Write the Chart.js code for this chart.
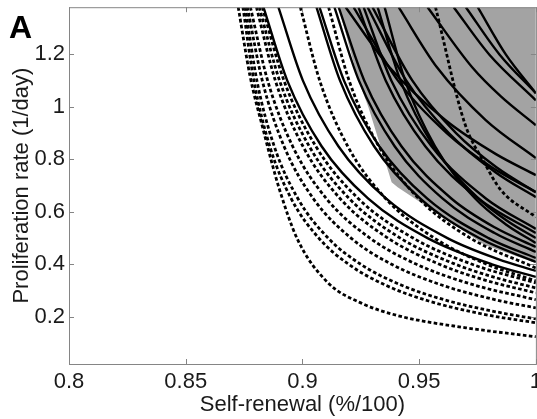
<!DOCTYPE html>
<html>
<head>
<meta charset="utf-8">
<script src="https://cdn.jsdelivr.net/npm/chart.js@4.4.1/dist/chart.umd.min.js"></script>
<style>
  html, body { margin: 0; padding: 0; background: #fff; overflow: hidden; }
  #wrap { position: relative; width: 537px; height: 419px; overflow: hidden; }
  #fit { position: absolute; left: 0; top: -10px; }
</style>
</head>
<body>
<div id="wrap"><canvas id="fit" width="547" height="429"></canvas></div>
<script>
// axis ticks
const xTicks = [0.8, 0.85, 0.9, 0.95, 1];
const yTicks = [0.2, 0.4, 0.6, 0.8, 1, 1.2];

// lower-left edge of the shaded region, [self-renewal, proliferation]
const region = [[0.9155, 1.38], [0.924, 1.101], [0.9283, 0.998], [0.9382, 0.713],
  [0.9408, 0.694], [0.9781, 0.474], [1.0, 0.405]];

// dashed curves
const d1 = [[0.8725, 1.38], [0.8775, 1.12], [0.883, 0.92], [0.89, 0.69], [0.898, 0.493], [0.911, 0.329],
  [0.925, 0.253], [0.941, 0.204], [0.970, 0.158], [1.0, 0.124]];
const d2 = [[0.8745, 1.38], [0.8792, 1.1], [0.886, 0.85], [0.8952, 0.65], [0.907, 0.5], [0.9198, 0.4],
  [0.9357, 0.32], [0.9541, 0.26], [0.9774, 0.21], [1.0, 0.177]];
const d3 = [[0.8755, 1.38], [0.8805, 1.1], [0.8879, 0.85], [0.8981, 0.65], [0.911, 0.5], [0.925, 0.4],
  [0.9425, 0.32], [0.9627, 0.26], [0.9823, 0.22], [1.0, 0.192]];
const d4 = [[0.8764, 1.38], [0.8828, 1.1], [0.8921, 0.85], [0.9047, 0.65], [0.9208, 0.5], [0.9382, 0.4],
  [0.96, 0.32], [0.9851, 0.26], [1.0, 0.234]];
const d5 = [[0.8777, 1.38], [0.8851, 1.1], [0.8958, 0.85], [0.9103, 0.65], [0.9289, 0.5], [0.9489, 0.4],
  [0.974, 0.32], [1.0, 0.265]];
const d6 = [[0.8803, 1.38], [0.8884, 1.1], [0.9002, 0.85], [0.9162, 0.65], [0.9366, 0.5], [0.9587, 0.4],
  [0.9781, 0.34], [1.0, 0.291]];
const d7 = [[0.8815, 1.38], [0.8902, 1.1], [0.9029, 0.85], [0.9201, 0.65], [0.9419, 0.5], [0.9656, 0.4],
  [0.9825, 0.35], [1.0, 0.31]];
const d8 = [[0.8828, 1.38], [0.8921, 1.1], [0.9057, 0.85], [0.924, 0.65], [0.9474, 0.5], [0.9727, 0.4],
  [1.0, 0.329]];
const d9 = [[0.8991, 1.38], [0.9074, 1.1], [0.9194, 0.85], [0.9357, 0.65], [0.9565, 0.5], [0.979, 0.4],
  [1.0, 0.337]];
const d10 = [[0.9112, 1.38], [0.92, 1.1], [0.9327, 0.85], [0.9499, 0.65], [0.9719, 0.5], [1.0, 0.386]];
const d11 = [[0.957, 1.38], [0.9695, 0.938], [0.978, 0.786], [0.985, 0.683], [1.0, 0.58]];

// solid curves
const s1 = [[0.8833, 1.38], [0.8935, 1.1], [0.9082, 0.85], [0.9282, 0.65], [0.9536, 0.5], [0.9812, 0.4], [1.0, 0.352]];
const s2 = [[0.8897, 1.38], [0.9002, 1.1], [0.9154, 0.85], [0.9359, 0.65], [0.9621, 0.5], [0.9838, 0.42], [1.0, 0.375]];
const s3 = [[0.906, 1.38], [0.9161, 1.1], [0.9307, 0.85], [0.9505, 0.65], [0.9757, 0.5], [1.0, 0.409]];
const s4 = [[0.9073, 1.38], [0.9178, 1.1], [0.9329, 0.85], [0.9535, 0.65], [0.9797, 0.5], [1.0, 0.424]];
const s5 = [[0.9137, 1.38], [0.9242, 1.1], [0.9395, 0.85], [0.9601, 0.65], [0.9821, 0.52], [1.0, 0.447]];
const s6 = [[0.9155, 1.38], [0.9265, 1.1], [0.9424, 0.85], [0.9639, 0.65], [0.9825, 0.54], [1.0, 0.466]];
const s7 = [[0.9185, 1.38], [0.9374, 1.15], [0.9612, 0.95], [0.9829, 0.82], [1.0, 0.74]];
const s8 = [[0.9219, 1.38], [0.9409, 1.1], [0.9618, 0.9], [0.9811, 0.77], [1.0, 0.675]];
const s9 = [[0.924, 1.38], [0.9357, 1.1], [0.9526, 0.85], [0.9755, 0.65], [1.0, 0.519]];
const s10 = [[0.9262, 1.38], [0.9381, 1.1], [0.9553, 0.85], [0.9787, 0.65], [1.0, 0.535]];
const s11 = [[0.9279, 1.38], [0.9445, 1.1], [0.9627, 0.9], [0.9828, 0.75], [1.0, 0.656]];
const s12 = [[0.93, 1.38], [0.9471, 1.1], [0.9658, 0.9], [0.9831, 0.77], [1.0, 0.675]];
const s13 = [[0.9322, 1.38], [0.942, 1.1], [0.9562, 0.85], [0.9755, 0.65], [0.9886, 0.56], [1.0, 0.5]];
const s14 = [[0.9352, 1.38], [0.944, 1.1], [0.9568, 0.85], [0.9741, 0.65], [0.9875, 0.55], [1.0, 0.481]];
const s15 = [[0.9412, 1.38], [0.9577, 1.15], [0.9785, 0.95], [1.0, 0.805]];
const s16 = [[0.9536, 1.38], [0.9728, 1.15], [0.985, 1.04], [1.0, 0.93]];
const s17 = [[0.9648, 1.38], [0.98, 1.2], [1.0, 1.025]];
const s18 = [[0.97, 1.38], [0.9844, 1.2], [1.0, 1.052]];
const s19 = [[0.9751, 1.38], [0.9871, 1.2], [1.0, 1.052]];

const dashed = [d1, d2, d3, d4, d5, d6, d7, d8, d9, d10, d11];
const solid = [s1, s2, s3, s4, s5, s6, s7, s8, s9, s10, s11, s12, s13, s14, s15, s16, s17, s18, s19];

const FONT = '"Liberation Sans", Arial, Helvetica, sans-serif';
const toPts = arr => arr.map(p => ({ x: p[0], y: p[1] }));

const curve = (arr, dash) => ({
  data: toPts(arr),
  borderColor: '#000',
  borderWidth: dash ? 2.8 : 2.4,
  borderDash: dash ? [3.6, 2.4] : [],
  pointRadius: 0,
  cubicInterpolationMode: 'monotone',
  fill: false,
  order: 0
});

const datasets = [{
  data: toPts(region),
  borderWidth: 0,
  borderColor: 'rgba(0,0,0,0)',
  backgroundColor: '#a3a3a3',
  pointRadius: 0,
  tension: 0,
  fill: 'end',
  order: 10
}];
solid.forEach(c => datasets.push(curve(c, false)));
dashed.forEach(c => datasets.push(curve(c, true)));

/* =========================
   BOX, INWARD TICKS, PANEL LETTER
========================= */
const frame = {
  id: 'frame',
  afterDatasetsDraw(chart) {
    const { ctx, chartArea: a, scales: { x, y } } = chart;
    ctx.save();
    ctx.strokeStyle = '#858585';
    ctx.lineWidth = 1;
    ctx.strokeRect(a.left + 0.5, a.top + 0.5, a.right - a.left, a.bottom - a.top);
    ctx.beginPath();
    xTicks.forEach(v => {
      const px = Math.round(x.getPixelForValue(v)) + 0.5;
      ctx.moveTo(px, a.bottom); ctx.lineTo(px, a.bottom - 5);
      ctx.moveTo(px, a.top); ctx.lineTo(px, a.top + 5);
    });
    yTicks.forEach(v => {
      const py = Math.round(y.getPixelForValue(v)) + 0.5;
      ctx.moveTo(a.left, py); ctx.lineTo(a.left + 5, py);
      ctx.moveTo(a.right, py); ctx.lineTo(a.right - 5, py);
    });
    ctx.stroke();
    ctx.fillStyle = '#000';
    ctx.font = 'bold 32px ' + FONT;
    ctx.textBaseline = 'alphabetic';
    ctx.fillText('A', 9, 48);
    ctx.restore();
  }
};

const fmt = v => String(Math.round(v * 100) / 100);

new Chart(document.getElementById('fit'), {
  type: 'line',
  data: { datasets },
  options: {
    responsive: false,
    animation: false,
    events: [],
    layout: { padding: { left: 0, top: 7, right: 1, bottom: 0 } },
    plugins: { legend: { display: false }, tooltip: { enabled: false } },
    scales: {
      x: {
        type: 'linear',
        min: 0.8,
        max: 1,
        afterBuildTicks: s => { s.ticks = xTicks.map(v => ({ value: v })); },
        afterFit: s => { s.height = 55; },
        grid: { display: false, drawTicks: false },
        border: { display: false },
        ticks: { font: { family: FONT, size: 22 }, color: '#1a1a1a', padding: 5, maxRotation: 0, callback: fmt },
        title: {
          display: true,
          text: 'Self-renewal (%/100)',
          font: { family: FONT, size: 22 },
          color: '#1a1a1a',
          padding: { top: 0, bottom: 1 }
        }
      },
      y: {
        type: 'linear',
        min: 0.02,
        max: 1.38,
        afterBuildTicks: s => { s.ticks = yTicks.map(v => ({ value: v })); },
        afterFit: s => { s.width = 69; },
        grid: { display: false, drawTicks: false },
        border: { display: false },
        ticks: { font: { family: FONT, size: 22 }, color: '#1a1a1a', padding: 4, callback: fmt },
        title: {
          display: true,
          text: 'Proliferation rate (1/day)',
          font: { family: FONT, size: 22 },
          color: '#1a1a1a',
          padding: { top: 9, bottom: 0 }
        }
      }
    }
  },
  plugins: [frame]
});
</script>
</body>
</html>
